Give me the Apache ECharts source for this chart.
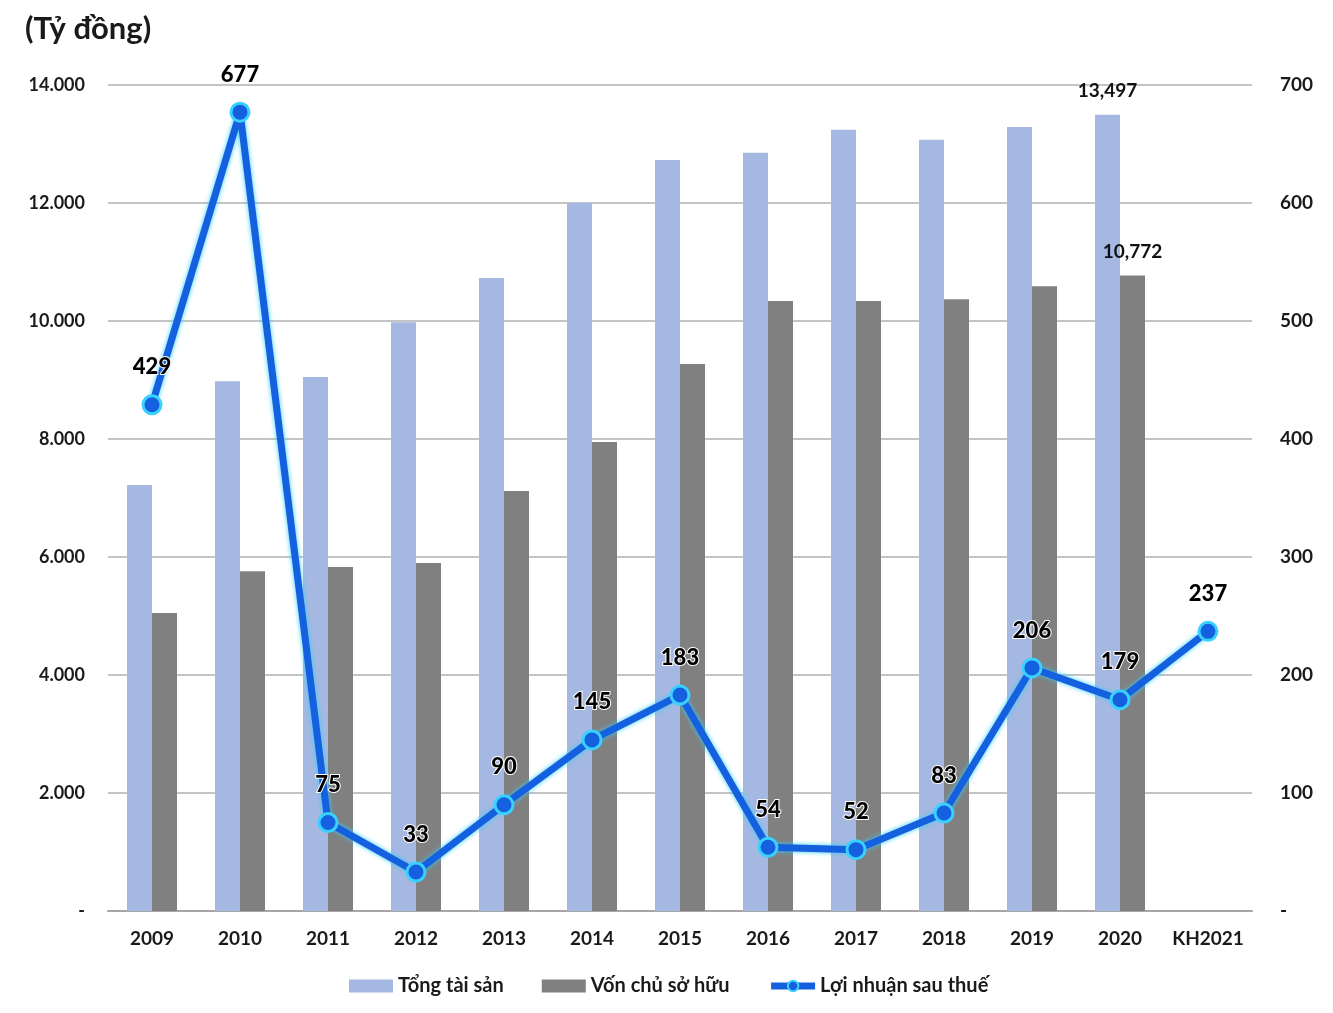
<!DOCTYPE html>
<html><head><meta charset="utf-8">
<script src="https://cdn.jsdelivr.net/npm/echarts@6/dist/echarts.min.js"></script>
<style>html,body{margin:0;padding:0;background:#fff}#c{width:1333px;height:1013px}</style>
</head><body><div id="c"></div>
<script>
const categories = ['2009','2010','2011','2012','2013','2014','2015','2016','2017','2018','2019','2020','KH2021'];
const tongTaiSan = [7220, 8980, 9050, 9980, 10730, 12000, 12730, 12850, 13240, 13070, 13290, 13497, null];
const vonChuSoHuu = [5050, 5760, 5830, 5900, 7120, 7950, 9270, 10340, 10340, 10370, 10590, 10772, null];
const loiNhuan = [429, 677, 75, 33, 90, 145, 183, 54, 52, 83, 206, 179, 237];
const labeledIndex = 11;

const FONT = 'Lato';
const chart = echarts.init(document.getElementById('c'));
function withLabel(arr) {
  return arr.map((v, i) => i === labeledIndex ? {value: v, label: {show: true}} : v);
}
const fmtComma = p => String(p.value).replace(/\B(?=(\d{3})+(?!\d))/g, ',');
chart.setOption({
  backgroundColor: '#fff',
  animation: false,
  title: {text: '(Tỷ đồng)', left: 20, top: 8, textStyle: {fontFamily: FONT, fontSize: 31, fontWeight: 'bold', color: '#1a1a1a'}},
  grid: {left: 108, right: 81, top: 85, bottom: 102, containLabel: false},
  legend: {
    bottom: 12, left: 344, itemGap: 38, itemWidth: 44, itemHeight: 13,
    textStyle: {fontFamily: FONT, fontSize: 20, color: '#1a1a1a', fontWeight: 'bold'},
    data: [{name: 'Tổng tài sản', icon: 'rect'}, {name: 'Vốn chủ sở hữu', icon: 'rect'},
           {name: 'Lợi nhuận sau thuế', itemStyle: {borderWidth: 2}, lineStyle: {width: 7}}]
  },
  xAxis: {
    type: 'category', data: categories,
    axisLine: {lineStyle: {color: '#a6a6a6', width: 2}},
    axisTick: {show: false},
    axisLabel: {interval: 0, fontFamily: FONT, fontSize: 19, fontWeight: 'bold', color: '#1a1a1a', margin: 18}
  },
  yAxis: [{
    type: 'value', min: 0, max: 14000, interval: 2000,
    axisLine: {show: false}, axisTick: {show: false},
    splitLine: {lineStyle: {color: '#c4c4c4', width: 2}},
    axisLabel: {fontFamily: FONT, fontSize: 18, fontWeight: 'bold', color: '#1a1a1a', margin: 23,
      formatter: v => v === 0 ? '-' : String(v).replace(/\B(?=(\d{3})+(?!\d))/g, '.')}
  }, {
    type: 'value', min: 0, max: 700, interval: 100,
    axisLine: {show: false}, axisTick: {show: false}, splitLine: {show: false},
    axisLabel: {fontFamily: FONT, fontSize: 19, fontWeight: 'bold', color: '#1a1a1a', margin: 28,
      formatter: v => v === 0 ? '-' : String(v)}
  }],
  series: [{
    name: 'Tổng tài sản', type: 'bar', data: withLabel(tongTaiSan), barWidth: 25, barGap: '0%',
    itemStyle: {color: '#a5b8e2'},
    label: {show: false, position: 'top', distance: 14, formatter: fmtComma, fontFamily: FONT, fontSize: 19, fontWeight: 'bold', color: '#111'}
  }, {
    name: 'Vốn chủ sở hữu', type: 'bar', data: withLabel(vonChuSoHuu), barWidth: 25,
    itemStyle: {color: '#808080'},
    label: {show: false, position: 'top', distance: 14, formatter: fmtComma, fontFamily: FONT, fontSize: 19, fontWeight: 'bold', color: '#111'}
  }, {
    name: 'Lợi nhuận sau thuế', type: 'line', yAxisIndex: 1, data: loiNhuan,
    symbol: 'circle', symbolSize: 18,
    lineStyle: {color: '#1460de', width: 7, shadowColor: '#35cdfa', shadowBlur: 5},
    itemStyle: {color: '#1460de', borderColor: '#3ad0ff', borderWidth: 3},
    label: {show: true, position: 'top', distance: 16, fontFamily: FONT, fontSize: 22, fontWeight: 900, color: '#000',
      textBorderColor: '#fff', textBorderWidth: 2},
    z: 5
  }]
});
</script></body></html>
